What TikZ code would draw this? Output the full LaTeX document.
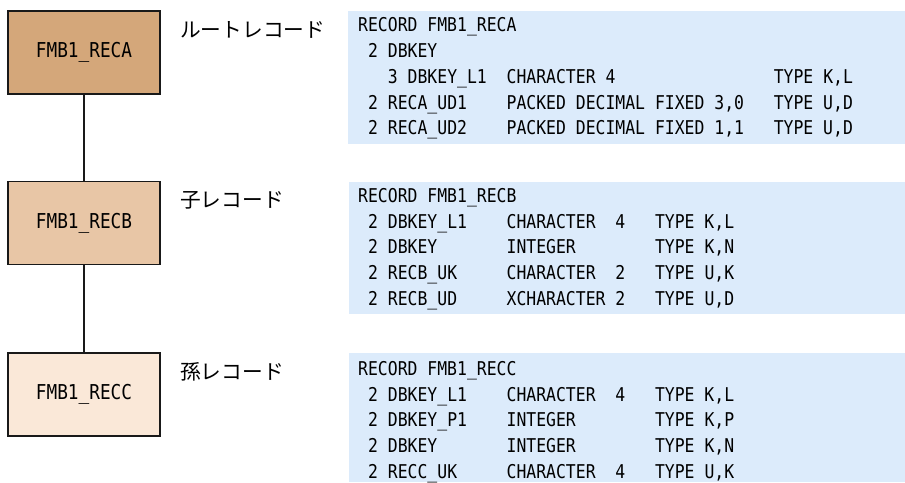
\documentclass[tikz,border=0pt]{standalone}
\usepackage{fontspec}
\newfontfamily\codefont[FakeStretch=0.865]{DejaVu Sans Mono}
\newfontfamily\jpfont{Noto Sans CJK JP}
\definecolor{recA}{HTML}{D4A77A}
\definecolor{recB}{HTML}{E8C6A6}
\definecolor{recC}{HTML}{FAE8D8}
\definecolor{panel}{HTML}{DCEBFB}
\tikzset{
  recbox/.style={draw=black!90, line width=1.3pt, minimum width=152pt, minimum height=83pt, inner sep=0pt, font=\codefont\fontsize{20.5}{20.5}\selectfont},
  reclabel/.style={anchor=west, inner sep=0pt, font=\jpfont\fontsize{20.7}{20.7}\selectfont},
  codeline/.style={anchor=base west, inner sep=0pt, font=\codefont\fontsize{19}{19}\selectfont},
  link/.style={line width=1.3pt, draw=black!90}
}
\begin{document}
\begin{tikzpicture}[x=1pt,y=-1pt]
\useasboundingbox (0,0) rectangle (905,482);
% boxes
\node[recbox, fill=recA] (ra) at (84,52.5) {FMB1\_RECA};
\node[recbox, fill=recB] (rb) at (84,223) {FMB1\_RECB};
\node[recbox, fill=recC] (rc) at (84,394.5) {FMB1\_RECC};
\draw[link] (ra.south) -- (rb.north);
\draw[link] (rb.south) -- (rc.north);
% labels
\node[reclabel] (la) at (180,30) {ルートレコード};
\node[reclabel] (lb) at (180,200) {子レコード};
\node[reclabel] (lc) at (180,372) {孫レコード};
% panels
\fill[panel] (348,11) rectangle (905,144);
\fill[panel] (349,182) rectangle (905,314);
\fill[panel] (349,353) rectangle (905,482);
% panel A
\node[codeline] (a1) at (358,31.8) {RECORD~FMB1\_RECA};
\node[codeline] (a2) at (358,57.55) {~2~DBKEY};
\node[codeline] (a3) at (358,83.3) {~~~3~DBKEY\_L1~~CHARACTER~4~~~~~~~~~~~~~~~~TYPE~K,L};
\node[codeline] (a4) at (358,109.05) {~2~RECA\_UD1~~~~PACKED~DECIMAL~FIXED~3,0~~~TYPE~U,D};
\node[codeline] (a5) at (358,134.8) {~2~RECA\_UD2~~~~PACKED~DECIMAL~FIXED~1,1~~~TYPE~U,D};
% panel B
\node[codeline] (b1) at (358,202.1) {RECORD~FMB1\_RECB};
\node[codeline] (b2) at (358,228.0) {~2~DBKEY\_L1~~~~CHARACTER~~4~~~TYPE~K,L};
\node[codeline] (b3) at (358,253.9) {~2~DBKEY~~~~~~~INTEGER~~~~~~~~TYPE~K,N};
\node[codeline] (b4) at (358,279.8) {~2~RECB\_UK~~~~~CHARACTER~~2~~~TYPE~U,K};
\node[codeline] (b5) at (358,305.7) {~2~RECB\_UD~~~~~XCHARACTER~2~~~TYPE~U,D};
% panel C
\node[codeline] (c1) at (358,375.1) {RECORD~FMB1\_RECC};
\node[codeline] (c2) at (358,401.0) {~2~DBKEY\_L1~~~~CHARACTER~~4~~~TYPE~K,L};
\node[codeline] (c3) at (358,426.9) {~2~DBKEY\_P1~~~~INTEGER~~~~~~~~TYPE~K,P};
\node[codeline] (c4) at (358,452.8) {~2~DBKEY~~~~~~~INTEGER~~~~~~~~TYPE~K,N};
\node[codeline] (c5) at (358,478.7) {~2~RECC\_UK~~~~~CHARACTER~~4~~~TYPE~U,K};
\end{tikzpicture}
\end{document}
